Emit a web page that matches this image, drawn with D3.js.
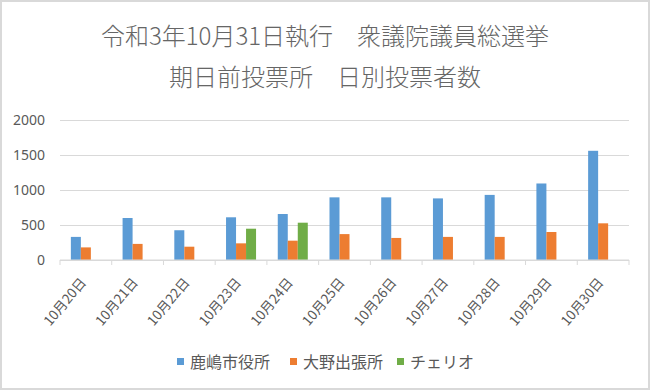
<!DOCTYPE html>
<html>
<head>
<meta charset="utf-8">
<script src="https://cdn.jsdelivr.net/npm/d3@7"></script>
<style>
  html, body { margin: 0; padding: 0; background: #fff; }
  svg { display: block; }
  text { font-family: "Noto Sans CJK JP", "Noto Sans", sans-serif; fill: #595959; }
</style>
</head>
<body>
<div id="chart"></div>
<script>
// données
const categories = ["10月20日", "10月21日", "10月22日", "10月23日", "10月24日", "10月25日",
	"10月26日", "10月27日", "10月28日", "10月29日", "10月30日"];
const kashimaShiyakusho = [330, 600, 425, 610, 657, 895, 895, 880, 930, 1093, 1560];
const onoShutchojo = [180, 230, 190, 238, 276, 370, 315, 330, 330, 400, 524];
const cherio = [null, null, null, 447, 533, null, null, null, null, null, null];
const seriesNames = ["鹿嶋市役所", "大野出張所", "チェリオ"];
const seriesColors = ["#5B9BD5", "#ED7D31", "#70AD47"];
const yTicks = [0, 500, 1000, 1500, 2000];
const titleLines = ["令和3年10月31日執行　衆議院議員総選挙", "期日前投票所　日別投票者数"];

const width = 650, height = 390;
const margin = { top: 120, right: 21, bottom: 130, left: 60 };

const series = [kashimaShiyakusho, onoShutchojo, cherio];

const svg = d3.select("#chart")
	.append("svg")
	.attr("width", width)
	.attr("height", height);

svg.append("rect")
	.attr("x", 1).attr("y", 1)
	.attr("width", width - 2).attr("height", height - 2)
	.attr("fill", "#fff")
	.attr("stroke", "#d9d9d9")
	.attr("stroke-width", 2);

// titre
svg.append("g")
	.selectAll("text")
	.data(titleLines)
	.join("text")
	.attr("x", width / 2)
	.attr("y", (d, i) => 45 + i * 41)
	.attr("text-anchor", "middle")
	.style("font-size", "24px")
	.style("font-weight", 300)
	.style("fill", "#666")
	.text(d => d);

const x = d3.scaleBand()
	.domain(categories)
	.range([margin.left, width - margin.right]);

const bandW = x.bandwidth();
const barW = bandW / (3 + 2.17);

const xs = d3.scaleBand()
	.domain(d3.range(series.length))
	.range([(bandW - 3 * barW) / 2, (bandW + 3 * barW) / 2]);

const y = d3.scaleLinear()
	.domain([0, 2000])
	.range([height - margin.bottom, margin.top]);

// grille horizontale
svg.append("g")
	.attr("transform", "translate(" + margin.left + ",0)")
	.call(d3.axisLeft(y).tickValues(yTicks).tickSize(-(width - margin.left - margin.right)).tickFormat(""))
	.call(g => g.select(".domain").remove())
	.call(g => g.selectAll("line").attr("stroke", "#d9d9d9"));

// étiquettes Y
svg.append("g")
	.selectAll("text")
	.data(yTicks)
	.join("text")
	.attr("x", 45)
	.attr("y", d => y(d))
	.attr("dy", "0.35em")
	.attr("text-anchor", "end")
	.style("font-family", "'Noto Sans', sans-serif")
	.style("font-size", "14px")
	.text(d => d);

// barres
const groups = svg.append("g")
	.selectAll("g")
	.data(series)
	.join("g")
	.attr("fill", (d, i) => seriesColors[i]);

groups.each(function (values, si) {
	d3.select(this)
		.selectAll("rect")
		.data(values.map((v, i) => ({ cat: categories[i], v: v })).filter(d => d.v != null))
		.join("rect")
		.attr("x", d => x(d.cat) + xs(si))
		.attr("y", d => y(d.v))
		.attr("width", xs.bandwidth())
		.attr("height", d => y(0) - y(d.v));
});

// axe X
const xAxis = svg.append("g")
	.attr("transform", "translate(0," + y(0) + ")");
xAxis.append("line")
	.attr("x1", margin.left).attr("x2", width - margin.right)
	.attr("stroke", "#d9d9d9");
xAxis.selectAll(".tick")
	.data(categories.concat([null]))
	.join("line")
	.attr("class", "tick")
	.attr("x1", (d, i) => margin.left + i * bandW)
	.attr("x2", (d, i) => margin.left + i * bandW)
	.attr("y1", 0).attr("y2", 5)
	.attr("stroke", "#d9d9d9");

svg.append("g")
	.selectAll("text")
	.data(categories)
	.join("text")
	.attr("transform", d => "translate(" + (x(d) + bandW / 2 + 1) + "," + (y(0) + 23) + ") rotate(-50)")
	.attr("text-anchor", "end")
	.style("font-size", "13.5px")
	.text(d => d);

// légende
const legendX = [177, 290, 397];
const legend = svg.append("g")
	.selectAll("g")
	.data(seriesNames)
	.join("g")
	.attr("transform", (d, i) => "translate(" + legendX[i] + ",358)");
legend.append("rect")
	.attr("width", 7).attr("height", 7)
	.attr("fill", (d, i) => seriesColors[i]);
legend.append("text")
	.attr("x", 13)
	.attr("y", 4)
	.attr("dy", "0.35em")
	.style("font-size", "16px")
	.text(d => d);
</script>
</body>
</html>
